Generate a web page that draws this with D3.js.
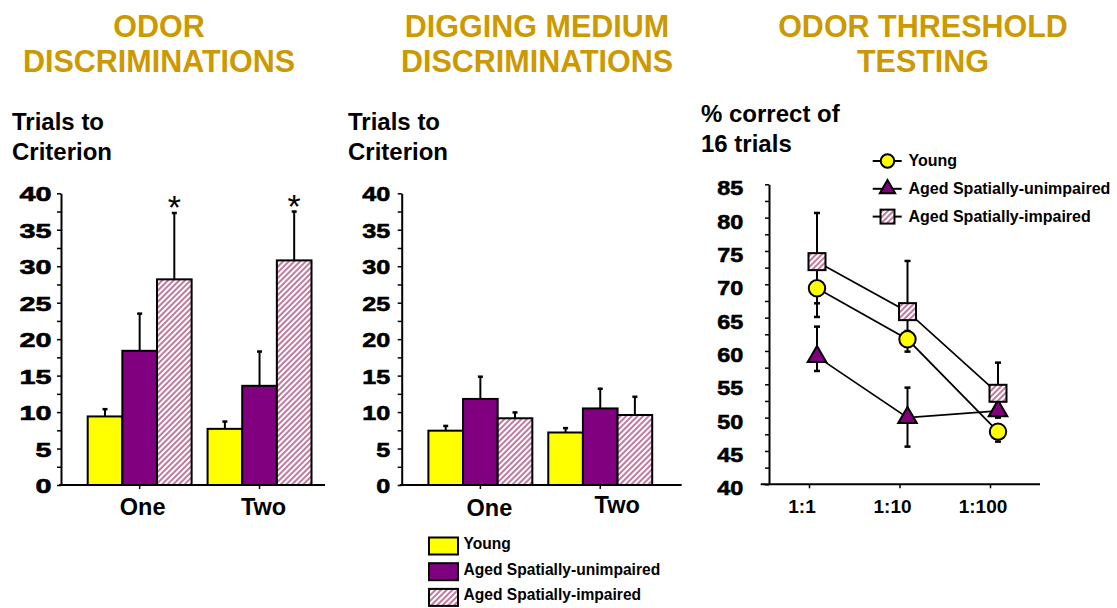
<!DOCTYPE html>
<html>
<head>
<meta charset="utf-8">
<script src="https://cdn.jsdelivr.net/npm/d3@7"></script>
<style>
  html, body { margin: 0; padding: 0; background: #fff; }
  svg { display: block; }
  text { font-family: "Liberation Sans", Arial, Helvetica, sans-serif; font-weight: bold; fill: #000; }
</style>
</head>
<body>
<svg id="chart" width="1117" height="608"></svg>
<script>
// ---------------- DATA ----------------
const seriesNames = ["Young", "Aged Spatially-unimpaired", "Aged Spatially-impaired"];
const groups = ["One", "Two"];

// Odor discriminations: trials to criterion (mean, SEM) per series, per group
const odorYoung = [9.4, 7.7];
const odorUnimpaired = [18.4, 13.6];
const odorImpaired = [28.2, 30.8];
const odorYoungErr = [1.0, 1.0];
const odorUnimpairedErr = [5.1, 4.7];
const odorImpairedErr = [9.1, 6.7];
const odorStars = [[false, false], [false, false], [true, true]];

// Digging medium discriminations
const digYoung = [7.45, 7.2];
const digUnimpaired = [11.8, 10.5];
const digImpaired = [9.15, 9.6];
const digYoungErr = [0.65, 0.6];
const digUnimpairedErr = [3.05, 2.7];
const digImpairedErr = [0.8, 2.5];

const barTicks = [0, 5, 10, 15, 20, 25, 30, 35, 40];

// Odor threshold testing: % correct of 16 trials
const dilutions = ["1:1", "1:10", "1:100"];
const thrYoung = [69.4, 61.75, 47.9];
const thrYoungLo = [65.1, 59.9, 46.4];
const thrYoungHi = [73.7, 63.0, 49.0];
const thrUnimpaired = [59.15, 50.0, 51.0];
const thrUnimpairedLo = [57.0, 45.65, 50.0];
const thrUnimpairedHi = [63.65, 54.5, 52.0];
const thrImpaired = [73.4, 65.9, 53.65];
const thrImpairedLo = [67.15, 61.0, 51.0];
const thrImpairedHi = [80.7, 73.5, 58.25];
const thrTicks = [40, 45, 50, 55, 60, 65, 70, 75, 80, 85];

// ---------------- STYLE ----------------
const GOLD = "#CC9900";
const YELLOW = "#FFFF00";
const PURPLE = "#800080";
const svg = d3.select("#chart");

const defs = svg.append("defs");
const pat = defs.append("pattern").attr("id", "hatch")
  .attr("patternUnits", "userSpaceOnUse").attr("width", 4).attr("height", 4)
  .attr("patternTransform", "rotate(45)");
pat.append("rect").attr("width", 4).attr("height", 4).attr("fill", "#fff");
pat.append("line").attr("x1", 1).attr("y1", 0).attr("x2", 1).attr("y2", 4)
  .attr("stroke", "#b8628f").attr("stroke-width", 1.7);
const fills = [YELLOW, PURPLE, "url(#hatch)"];

// ---------------- TITLES ----------------
function title(cx, lines) {
  lines.forEach((t, i) => {
    svg.append("text").attr("x", cx).attr("y", 37 + i * 35)
      .attr("text-anchor", "middle").attr("font-size", 30.5)
      .style("fill", GOLD).text(t);
  });
}
title(159, ["ODOR", "DISCRIMINATIONS"]);
title(537, ["DIGGING MEDIUM", "DISCRIMINATIONS"]);
title(923, ["ODOR THRESHOLD", "TESTING"]);

function ylabel(x, lines, y0) {
  lines.forEach((t, i) => {
    svg.append("text").attr("x", x).attr("y", y0 + i * 30)
      .attr("font-size", 24).text(t);
  });
}
ylabel(12, ["Trials to", "Criterion"], 130);
ylabel(348, ["Trials to", "Criterion"], 130);
ylabel(701, ["% correct of", "16 trials"], 122);

function styleTickText(sel, lenFn) {
  sel.attr("font-size", 21)
    .style("font-family", "'Liberation Sans', Arial, sans-serif")
    .style("font-weight", "bold")
    .attr("stroke", "#000").attr("stroke-width", 0.6)
    .attr("textLength", lenFn)
    .attr("lengthAdjust", "spacingAndGlyphs");
}

// ---------------- BAR PANELS ----------------
function barPanel(cfg) {
  const means = cfg.means, errs = cfg.errs;
  const y = d3.scaleLinear().domain([0, 40]).range([485, 193.3]);
  const x0 = d3.scaleBand().domain(groups)
    .range([cfg.axisX + 18.7, cfg.axisX + 258.5])
    .paddingInner(0.133).paddingOuter(0.0667);
  const x1 = d3.scaleBand().domain(seriesNames).range([0, x0.bandwidth()]).padding(0);
  const g = svg.append("g");

  // minor ticks
  const minor = d3.range(2.5, 40, 5);
  g.append("g").attr("transform", `translate(${cfg.axisX},0)`)
    .call(d3.axisLeft(y).tickValues(minor).tickSize(4).tickSizeOuter(0).tickFormat(""))
    .call(s => s.select(".domain").remove())
    .call(s => s.selectAll("line").attr("stroke-width", 1.5));
  // major ticks + labels
  const ax = g.append("g").attr("transform", `translate(${cfg.axisX},0)`)
    .call(d3.axisLeft(y).tickValues(barTicks).tickSize(4).tickSizeOuter(0).tickPadding(cfg.labelPad));
  ax.select(".domain").attr("stroke-width", 2);
  ax.selectAll("line").attr("stroke-width", 1.5);
  styleTickText(ax.selectAll("text").attr("dy", "0.36em"), d => String(d).length * cfg.digitW);

  // x axis
  g.append("line").attr("x1", cfg.axisX - 2).attr("x2", cfg.axisRight)
    .attr("y1", y(0)).attr("y2", y(0)).attr("stroke", "#000").attr("stroke-width", 2);
  groups.forEach((gr, gi) => {
    const cx = x0(gr) + x0.bandwidth() / 2;
    g.append("line").attr("x1", cx).attr("x2", cx).attr("y1", y(0)).attr("y2", y(0) + 4)
      .attr("stroke", "#000").attr("stroke-width", 1.5);
    g.append("text").attr("x", cx + cfg.labelDx[gi]).attr("y", 515 + cfg.labelDy[gi])
      .attr("text-anchor", "middle").attr("font-size", 23.5).text(gr);
  });

  // bars
  seriesNames.forEach((s, si) => {
    groups.forEach((gr, gi) => {
      const v = means[si][gi], e = errs[si][gi];
      const bx = x0(gr) + x1(s), bw = x1.bandwidth(), cx = bx + bw / 2;
      // error bar (upward)
      g.append("line").attr("x1", cx).attr("x2", cx).attr("y1", y(v)).attr("y2", y(v + e))
        .attr("stroke", "#000").attr("stroke-width", 2);
      g.append("line").attr("x1", cx - 2.5).attr("x2", cx + 2.5).attr("y1", y(v + e)).attr("y2", y(v + e))
        .attr("stroke", "#000").attr("stroke-width", 2.5);
      g.append("rect").attr("x", bx).attr("y", y(v)).attr("width", bw).attr("height", y(0) - y(v))
        .attr("fill", fills[si]).attr("stroke", "#000").attr("stroke-width", 2);
      if (cfg.stars && cfg.stars[si][gi]) {
        g.append("text").attr("x", cx).attr("y", y(v + e) + 6)
          .attr("text-anchor", "middle").attr("font-size", 34)
          .style("font-weight", "normal").text("*");
      }
    });
  });
}

barPanel({
  axisX: 61, axisRight: 325, labelPad: 5.5, digitW: 16,
  labelDx: [3, 4], labelDy: [0, 0],
  means: [odorYoung, odorUnimpaired, odorImpaired],
  errs: [odorYoungErr, odorUnimpairedErr, odorImpairedErr],
  stars: odorStars
});
barPanel({
  axisX: 401.7, axisRight: 681.7, labelPad: 7.5, digitW: 14,
  labelDx: [9, 17], labelDy: [1, -2],
  means: [digYoung, digUnimpaired, digImpaired],
  errs: [digYoungErr, digUnimpairedErr, digImpairedErr],
  stars: null
});

// bottom legend
seriesNames.forEach((s, i) => {
  const yy = 537.5 + i * 25.7;
  svg.append("rect").attr("x", 429).attr("y", yy).attr("width", 29).attr("height", 17)
    .attr("fill", fills[i]).attr("stroke", "#000").attr("stroke-width", 2);
  svg.append("text").attr("x", 463.5).attr("y", yy + 11.5).attr("font-size", 15.6).text(s);
});

// ---------------- LINE PANEL ----------------
(function () {
  const axisX = 769;
  const y = d3.scaleLinear().domain([40, 85]).range([484.3, 184.3]);
  const x = d3.scalePoint().domain(dilutions).range([817, 998]);
  const g = svg.append("g");

  const minor = d3.range(42.5, 85, 5);
  g.append("g").attr("transform", `translate(${axisX},0)`)
    .call(d3.axisLeft(y).tickValues(minor).tickSize(4).tickSizeOuter(0).tickFormat(""))
    .call(s => s.select(".domain").remove())
    .call(s => s.selectAll("line").attr("stroke-width", 1.5));
  const ax = g.append("g").attr("transform", `translate(${axisX},0)`)
    .call(d3.axisLeft(y).tickValues(thrTicks).tickSize(4).tickSizeOuter(0).tickPadding(21.7));
  ax.select(".domain").attr("stroke-width", 2);
  ax.selectAll("line").attr("stroke-width", 1.5);
  styleTickText(ax.selectAll("text").attr("dy", "0.5em"), 26);

  g.append("line").attr("x1", 760.7).attr("x2", 1040).attr("y1", y(40)).attr("y2", y(40))
    .attr("stroke", "#000").attr("stroke-width", 2);
  dilutions.forEach(d => {
    const tx = x(d) - 7.5;
    g.append("line").attr("x1", tx).attr("x2", tx).attr("y1", y(40)).attr("y2", y(40) + 4)
      .attr("stroke", "#000").attr("stroke-width", 1.5);
    g.append("text").attr("x", x(d) - 15).attr("y", 512.5).attr("text-anchor", "middle")
      .attr("font-size", 19).text(d);
  });

  const series = [
    { m: thrYoung, lo: thrYoungLo, hi: thrYoungHi, shape: "circle" },
    { m: thrUnimpaired, lo: thrUnimpairedLo, hi: thrUnimpairedHi, shape: "triangle" },
    { m: thrImpaired, lo: thrImpairedLo, hi: thrImpairedHi, shape: "square" }
  ];
  const line = d3.line().x((d, i) => x(dilutions[i])).y(d => y(d));
  series.forEach(s => {
    g.append("path").attr("d", line(s.m)).attr("fill", "none")
      .attr("stroke", "#000").attr("stroke-width", 1.7);
  });
  series.forEach(s => {
    dilutions.forEach((d, i) => {
      const cx = x(d);
      g.append("line").attr("x1", cx).attr("x2", cx).attr("y1", y(s.lo[i])).attr("y2", y(s.hi[i]))
        .attr("stroke", "#000").attr("stroke-width", 2);
      [s.lo[i], s.hi[i]].forEach(v => {
        g.append("line").attr("x1", cx - 3).attr("x2", cx + 3).attr("y1", y(v)).attr("y2", y(v))
          .attr("stroke", "#000").attr("stroke-width", 2.5);
      });
    });
  });
  function marker(sel, shape, cx, cy, k) {
    if (shape === "circle") {
      sel.append("circle").attr("cx", cx).attr("cy", cy).attr("r", 8.2 * k)
        .attr("fill", YELLOW).attr("stroke", "#000").attr("stroke-width", 2);
    } else if (shape === "triangle") {
      sel.append("path").attr("d", d3.symbol(d3.symbolTriangle, 150 * k * k)())
        .attr("transform", `translate(${cx},${cy})`)
        .attr("fill", PURPLE).attr("stroke", "#000").attr("stroke-width", 2);
    } else {
      const s = 17 * k;
      sel.append("rect").attr("x", cx - s / 2).attr("y", cy - s / 2).attr("width", s).attr("height", s)
        .attr("fill", "url(#hatch)").attr("stroke", "#000").attr("stroke-width", 2);
    }
  }
  series.forEach(s => {
    dilutions.forEach((d, i) => marker(g, s.shape, x(d), y(s.m[i]), 1));
  });

  // legend
  series.forEach((s, i) => {
    const cy = 161 + i * 27.8;
    g.append("line").attr("x1", 872.7).attr("x2", 901.7).attr("y1", cy).attr("y2", cy)
      .attr("stroke", "#000").attr("stroke-width", 2);
    marker(g, s.shape, 887.5, cy, 0.82);
    g.append("text").attr("x", 908.5).attr("y", cy + 5).attr("font-size", 16).text(seriesNames[i]);
  });
})();
</script>
</body>
</html>
